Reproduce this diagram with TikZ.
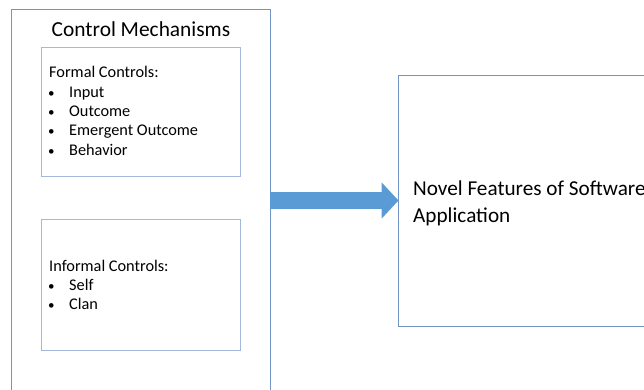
\documentclass[tikz,border=0pt]{standalone}
\usepackage{fontspec}
\setmainfont{Carlito}
\usetikzlibrary{arrows.meta}
\definecolor{outerline}{HTML}{7395C5}
\definecolor{innerline}{HTML}{A2B9DB}
\definecolor{arrowblue}{HTML}{5B9BD5}
\begin{document}
\begin{tikzpicture}[x=1pt,y=-1pt,
  box/.style={draw=#1,line width=0.9pt},
  body/.style={font=\fontsize{16.3}{18}\selectfont,inner sep=0pt,anchor=base west},
  big/.style={font=\fontsize{21.2}{24}\selectfont,inner sep=0pt,anchor=base west}]
\useasboundingbox (0,0) rectangle (644,390);
\clip (0,0) rectangle (644,390);
\fill[white] (0,0) rectangle (644,390);

% outer container
\draw[box=outerline] (11.5,420) -- (11.5,9.5) -- (270,9.5) -- (270,420);
\coordinate (outer) at (270,200.5);
\node[font=\fontsize{21.4}{24}\selectfont,inner sep=0pt,anchor=base] (title) at (141,36.5) {Control Mechanisms};

% formal controls
\draw[box=innerline] (41.5,47.5) rectangle (240.5,176.5);
\node[body] (ftitle) at (49,78) {Formal Controls:};
\foreach \y/\t/\n in {97.3/Input/f1,116.6/Outcome/f2,135.9/Emergent Outcome/f3,155.2/Behavior/f4}{
  \node[body,font=\fontsize{13}{15}\selectfont] (\n b) at (48,\y) {\textbullet};
  \node[body] (\n) at (69,\y) {\t};
}

% informal controls
\draw[box=innerline] (41.5,219.5) rectangle (240.5,350);
\node[body] (ititle) at (49,271) {Informal Controls:};
\foreach \y/\t/\n in {290.3/Self/i1,309.6/Clan/i2}{
  \node[body,font=\fontsize{13}{15}\selectfont] (\n b) at (48,\y) {\textbullet};
  \node[body] (\n) at (69,\y) {\t};
}

% outcome box
\draw[box=outerline] (700,75.5) -- (398.5,75.5) -- (398.5,326.5) -- (700,326.5);
\coordinate (feat) at (398.5,200.5);
\node[big] (n1) at (413,195.5) {Novel Features of Software};
\node[big] (n2) at (413,222.5) {Application};

% block arrow
\draw[arrowblue,line width=17.6pt,-{Triangle[length=17pt,width=35.5pt]}] (outer) -- (feat);
\end{tikzpicture}
\end{document}
